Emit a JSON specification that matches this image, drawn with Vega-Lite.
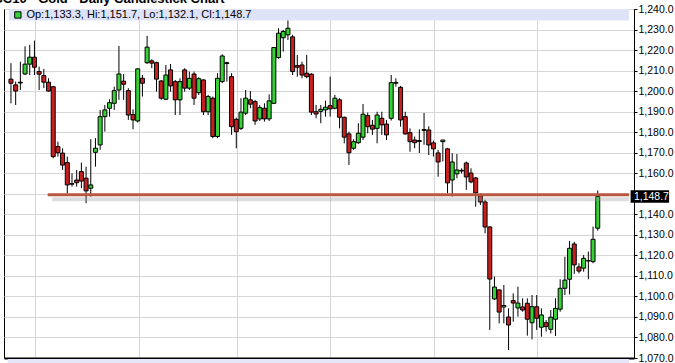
{
  "$schema": "https://vega.github.io/schema/vega-lite/v6.json",
  "width": 630,
  "height": 349,
  "autosize": "none",
  "padding": {"left": 4, "top": 9, "right": 41, "bottom": 5},
  "background": "#ffffff",
  "config": {
    "view": {"stroke": "#000000", "strokeWidth": 1},
    "font": "Liberation Sans",
    "axis": {"labelOverlap": false}
  },
  "datasets": {
    "candles": [
      {"i":1,"o":1206.0,"h":1213.8,"l":1194.2,"c":1204.0},
      {"i":2,"o":1203.2,"h":1204.8,"l":1193.4,"c":1200.2},
      {"i":3,"o":1204.1,"h":1214.5,"l":1200.7,"c":1204.5},
      {"i":4,"o":1208.5,"h":1222.0,"l":1208.0,"c":1213.3},
      {"i":5,"o":1213.3,"h":1222.7,"l":1208.0,"c":1216.7},
      {"i":6,"o":1216.7,"h":1224.8,"l":1208.0,"c":1211.8},
      {"i":7,"o":1209.7,"h":1212.1,"l":1200.7,"c":1208.4},
      {"i":8,"o":1207.7,"h":1211.0,"l":1201.6,"c":1204.5},
      {"i":9,"o":1204.5,"h":1206.4,"l":1199.9,"c":1200.2},
      {"i":10,"o":1202.3,"h":1202.7,"l":1167.4,"c":1168.2},
      {"i":11,"o":1173.1,"h":1175.5,"l":1168.2,"c":1170.1},
      {"i":12,"o":1169.9,"h":1172.3,"l":1161.7,"c":1164.1},
      {"i":13,"o":1165.3,"h":1168.2,"l":1150.3,"c":1154.4},
      {"i":14,"o":1155.0,"h":1160.1,"l":1153.6,"c":1154.8},
      {"i":15,"o":1156.8,"h":1161.7,"l":1153.6,"c":1155.5},
      {"i":16,"o":1160.9,"h":1165.3,"l":1152.8,"c":1156.3},
      {"i":17,"o":1157.7,"h":1163.3,"l":1145.5,"c":1151.5},
      {"i":18,"o":1152.8,"h":1176.7,"l":1148.7,"c":1154.4},
      {"i":19,"o":1170.3,"h":1177.2,"l":1163.3,"c":1172.3},
      {"i":20,"o":1173.9,"h":1191.0,"l":1171.5,"c":1187.7},
      {"i":21,"o":1187.7,"h":1193.4,"l":1180.4,"c":1191.0},
      {"i":22,"o":1191.8,"h":1196.2,"l":1187.7,"c":1194.5},
      {"i":23,"o":1194.2,"h":1202.3,"l":1191.0,"c":1200.4},
      {"i":24,"o":1200.7,"h":1222.2,"l":1195.9,"c":1208.5},
      {"i":25,"o":1205.0,"h":1208.5,"l":1195.9,"c":1203.5},
      {"i":26,"o":1200.4,"h":1201.6,"l":1186.1,"c":1188.5},
      {"i":27,"o":1188.7,"h":1191.3,"l":1181.6,"c":1186.1},
      {"i":28,"o":1185.6,"h":1211.3,"l":1184.8,"c":1211.0},
      {"i":29,"o":1206.4,"h":1208.0,"l":1197.5,"c":1204.0},
      {"i":30,"o":1214.0,"h":1227.1,"l":1213.4,"c":1221.6},
      {"i":31,"o":1214.9,"h":1215.7,"l":1211.3,"c":1213.8},
      {"i":32,"o":1214.0,"h":1214.5,"l":1199.9,"c":1206.0},
      {"i":33,"o":1205.1,"h":1205.6,"l":1195.9,"c":1196.7},
      {"i":34,"o":1196.2,"h":1212.9,"l":1195.9,"c":1208.0},
      {"i":35,"o":1210.5,"h":1213.4,"l":1199.9,"c":1202.7},
      {"i":36,"o":1204.8,"h":1205.6,"l":1188.5,"c":1195.9},
      {"i":37,"o":1195.9,"h":1206.4,"l":1188.5,"c":1204.8},
      {"i":38,"o":1210.5,"h":1211.3,"l":1199.9,"c":1201.6},
      {"i":39,"o":1201.6,"h":1209.7,"l":1200.7,"c":1206.4},
      {"i":40,"o":1208.5,"h":1209.7,"l":1193.4,"c":1196.7},
      {"i":41,"o":1199.4,"h":1206.9,"l":1198.3,"c":1206.2},
      {"i":42,"o":1205.6,"h":1205.9,"l":1188.5,"c":1190.1},
      {"i":43,"o":1190.1,"h":1198.3,"l":1188.5,"c":1197.5},
      {"i":44,"o":1196.7,"h":1197.5,"l":1177.2,"c":1178.0},
      {"i":45,"o":1178.0,"h":1208.9,"l":1177.2,"c":1206.4},
      {"i":46,"o":1204.8,"h":1218.1,"l":1204.0,"c":1217.3},
      {"i":47,"o":1213.6,"h":1214.5,"l":1204.8,"c":1214.0},
      {"i":48,"o":1207.2,"h":1208.9,"l":1178.8,"c":1182.8},
      {"i":49,"o":1186.4,"h":1187.2,"l":1172.3,"c":1180.4},
      {"i":50,"o":1182.0,"h":1196.7,"l":1181.2,"c":1189.9},
      {"i":51,"o":1189.4,"h":1200.7,"l":1188.5,"c":1196.7},
      {"i":52,"o":1195.9,"h":1200.2,"l":1191.8,"c":1193.8},
      {"i":53,"o":1195.0,"h":1195.9,"l":1183.7,"c":1185.6},
      {"i":54,"o":1186.6,"h":1193.4,"l":1185.6,"c":1192.1},
      {"i":55,"o":1191.8,"h":1194.2,"l":1185.3,"c":1186.6},
      {"i":56,"o":1186.6,"h":1198.6,"l":1185.6,"c":1195.4},
      {"i":57,"o":1194.2,"h":1221.4,"l":1193.8,"c":1221.4},
      {"i":58,"o":1216.5,"h":1230.8,"l":1215.9,"c":1228.4},
      {"i":59,"o":1226.2,"h":1230.0,"l":1219.4,"c":1229.2},
      {"i":60,"o":1227.6,"h":1234.9,"l":1225.1,"c":1230.8},
      {"i":61,"o":1226.6,"h":1227.6,"l":1208.0,"c":1209.7},
      {"i":62,"o":1212.6,"h":1217.8,"l":1207.2,"c":1211.8},
      {"i":63,"o":1212.9,"h":1214.5,"l":1206.4,"c":1208.0},
      {"i":64,"o":1208.9,"h":1217.8,"l":1206.4,"c":1207.2},
      {"i":65,"o":1208.4,"h":1208.9,"l":1188.5,"c":1189.9},
      {"i":66,"o":1190.1,"h":1193.4,"l":1186.9,"c":1189.0},
      {"i":67,"o":1190.3,"h":1193.4,"l":1184.5,"c":1191.3},
      {"i":68,"o":1191.0,"h":1195.5,"l":1187.7,"c":1192.3},
      {"i":69,"o":1193.1,"h":1207.2,"l":1187.7,"c":1191.5},
      {"i":70,"o":1191.8,"h":1198.3,"l":1191.3,"c":1196.7},
      {"i":71,"o":1195.9,"h":1196.7,"l":1182.0,"c":1187.4},
      {"i":72,"o":1187.4,"h":1187.7,"l":1174.7,"c":1177.7},
      {"i":73,"o":1179.3,"h":1180.4,"l":1164.1,"c":1170.1},
      {"i":74,"o":1172.3,"h":1176.7,"l":1171.5,"c":1175.5},
      {"i":75,"o":1175.0,"h":1184.5,"l":1174.4,"c":1179.6},
      {"i":76,"o":1177.7,"h":1193.9,"l":1176.3,"c":1188.9},
      {"i":77,"o":1188.2,"h":1189.7,"l":1179.6,"c":1182.8},
      {"i":78,"o":1183.5,"h":1186.1,"l":1178.8,"c":1181.6},
      {"i":79,"o":1182.0,"h":1190.1,"l":1174.7,"c":1188.5},
      {"i":80,"o":1186.9,"h":1190.1,"l":1178.8,"c":1183.7},
      {"i":81,"o":1184.1,"h":1186.1,"l":1176.3,"c":1178.8},
      {"i":82,"o":1186.9,"h":1208.0,"l":1185.8,"c":1204.3},
      {"i":83,"o":1204.0,"h":1206.4,"l":1202.3,"c":1204.4},
      {"i":84,"o":1202.0,"h":1202.7,"l":1182.8,"c":1186.1},
      {"i":85,"o":1187.7,"h":1190.1,"l":1178.8,"c":1179.3},
      {"i":86,"o":1179.9,"h":1182.0,"l":1170.6,"c":1175.5},
      {"i":87,"o":1176.3,"h":1178.0,"l":1172.3,"c":1175.0},
      {"i":88,"o":1176.0,"h":1181.5,"l":1170.0,"c":1175.6},
      {"i":89,"o":1181.0,"h":1189.5,"l":1174.0,"c":1181.4},
      {"i":90,"o":1181.2,"h":1183.0,"l":1169.0,"c":1173.9},
      {"i":91,"o":1174.9,"h":1176.0,"l":1168.2,"c":1172.0},
      {"i":92,"o":1170.0,"h":1171.5,"l":1158.4,"c":1165.6},
      {"i":93,"o":1175.5,"h":1176.3,"l":1165.8,"c":1176.3},
      {"i":94,"o":1172.0,"h":1172.5,"l":1150.3,"c":1155.4},
      {"i":95,"o":1156.8,"h":1169.9,"l":1148.7,"c":1165.6},
      {"i":96,"o":1159.8,"h":1169.5,"l":1157.7,"c":1161.7},
      {"i":97,"o":1161.5,"h":1162.5,"l":1160.0,"c":1161.2},
      {"i":98,"o":1165.1,"h":1165.8,"l":1152.0,"c":1158.3},
      {"i":99,"o":1160.2,"h":1162.5,"l":1155.2,"c":1155.9},
      {"i":100,"o":1157.8,"h":1158.3,"l":1143.8,"c":1150.5},
      {"i":101,"o":1149.5,"h":1150.3,"l":1144.6,"c":1146.1},
      {"i":102,"o":1146.1,"h":1147.1,"l":1130.8,"c":1133.9},
      {"i":103,"o":1133.9,"h":1134.3,"l":1083.7,"c":1108.5},
      {"i":104,"o":1098.8,"h":1109.7,"l":1098.3,"c":1104.6},
      {"i":105,"o":1103.2,"h":1103.5,"l":1086.9,"c":1092.4},
      {"i":106,"o":1094.9,"h":1105.6,"l":1086.9,"c":1095.6},
      {"i":107,"o":1090.0,"h":1094.2,"l":1073.9,"c":1086.1},
      {"i":108,"o":1098.0,"h":1101.5,"l":1087.7,"c":1096.8},
      {"i":109,"o":1094.4,"h":1104.8,"l":1090.2,"c":1096.8},
      {"i":110,"o":1094.9,"h":1099.1,"l":1092.6,"c":1093.4},
      {"i":111,"o":1096.7,"h":1099.1,"l":1080.9,"c":1088.9},
      {"i":112,"o":1087.2,"h":1100.7,"l":1079.1,"c":1095.0},
      {"i":113,"o":1095.0,"h":1100.7,"l":1083.7,"c":1089.4},
      {"i":114,"o":1085.0,"h":1094.2,"l":1080.4,"c":1091.0},
      {"i":115,"o":1087.2,"h":1088.5,"l":1082.9,"c":1085.3},
      {"i":116,"o":1084.0,"h":1093.4,"l":1082.0,"c":1089.9},
      {"i":117,"o":1088.9,"h":1099.1,"l":1080.7,"c":1094.2},
      {"i":118,"o":1093.8,"h":1108.4,"l":1092.6,"c":1104.0},
      {"i":119,"o":1104.0,"h":1119.4,"l":1100.7,"c":1108.0},
      {"i":120,"o":1108.4,"h":1127.1,"l":1101.0,"c":1123.5},
      {"i":121,"o":1125.6,"h":1126.7,"l":1111.0,"c":1115.4},
      {"i":122,"o":1114.4,"h":1116.2,"l":1111.3,"c":1112.4},
      {"i":123,"o":1113.8,"h":1120.2,"l":1112.1,"c":1118.6},
      {"i":124,"o":1117.3,"h":1121.9,"l":1108.4,"c":1117.5},
      {"i":125,"o":1117.0,"h":1134.1,"l":1116.2,"c":1127.9},
      {"i":126,"o":1133.3,"h":1151.7,"l":1132.1,"c":1148.7}
    ]
  },
  "layer": [
    {
      "data": {"name": "candles"},
      "mark": {"type": "rule", "color": "#000000", "strokeWidth": 1},
      "encoding": {
        "x": {
          "field": "i", "type": "quantitative",
          "scale": {"domain": [0.581, 132.66], "nice": false, "zero": false},
          "axis": {
            "title": null, "orient": "bottom", "values": [6.16, 28.19, 49.16, 68.93, 91.09, 113.1],
            "tickCount": 40,
            "grid": true, "gridColor": "#d6d6d6", "gridWidth": 1,
            "labels": false, "ticks": false,
            "domain": true, "domainColor": "#000000", "domainWidth": 2
          }
        },
        "y": {
          "field": "l", "type": "quantitative",
          "scale": {"domain": [1070, 1240.2], "nice": false, "zero": false},
          "axis": {
            "title": null, "orient": "right",
            "values": [1070,1080,1090,1100,1110,1120,1130,1140,1150,1160,1170,1180,1190,1200,1210,1220,1230,1240],
            "tickCount": 40,
            "format": ",.1f",
            "labelExpr": "datum.value == 1150 ? '' : datum.label",
            "labelOverlap": false,
            "grid": true, "gridColor": "#d6d6d6", "gridWidth": 1,
            "domainColor": "#000000", "tickColor": "#000000", "tickSize": 3,
            "labelFont": "Liberation Sans", "labelFontSize": 10.5, "labelColor": "#000000",
            "labelPadding": 1
          }
        },
        "y2": {"field": "h"}
      }
    },
    {
      "data": {"name": "candles"},
      "mark": {"type": "bar", "size": 4, "stroke": "#000000", "strokeWidth": 1},
      "encoding": {
        "x": {"field": "i", "type": "quantitative"},
        "y": {"field": "o", "type": "quantitative"},
        "y2": {"field": "c"},
        "color": {
          "condition": {"test": "datum.o < datum.c", "value": "#36d136"},
          "value": "#c82020"
        }
      }
    },
    {
      "data": {"values": [{}]},
      "mark": {"type": "rect", "color": "#dfe3f8"},
      "encoding": {
        "x": {"datum": 0.581, "type": "quantitative"},
        "x2": {"datum": 132.66},
        "y": {"datum": 1240.2, "type": "quantitative"},
        "y2": {"datum": 1234.6}
      }
    },
    {
      "data": {"values": [{}]},
      "mark": {"type": "rect", "color": "#e4e6f8"},
      "encoding": {
        "x": {"datum": 0.3, "type": "quantitative"},
        "x2": {"datum": 132.66},
        "y": {"datum": 1069.5, "type": "quantitative"},
        "y2": {"datum": 1066}
      }
    },
    {
      "data": {"values": [{}]},
      "mark": {"type": "point", "shape": "square", "size": 40, "filled": true, "color": "#36d136", "stroke": "#000000", "strokeWidth": 1, "opacity": 1},
      "encoding": {
        "x": {"datum": 2.47, "type": "quantitative"},
        "y": {"datum": 1237.3, "type": "quantitative"}
      }
    },
    {
      "data": {"values": [{"t": "Op:1,133.3, Hi:1,151.7, Lo:1,132.1, Cl:1,148.7"}]},
      "mark": {"type": "text", "align": "left", "baseline": "middle", "font": "Liberation Sans", "fontSize": 11, "color": "#000000"},
      "encoding": {
        "x": {"datum": 4.29, "type": "quantitative"},
        "y": {"datum": 1237.3, "type": "quantitative"},
        "text": {"field": "t"}
      }
    },
    {
      "data": {"values": [{"t": "GC10 - Gold - Daily Candlestick Chart"}]},
      "mark": {"type": "text", "align": "right", "baseline": "alphabetic", "font": "Liberation Sans", "fontSize": 13, "fontWeight": "bold", "color": "#000000"},
      "encoding": {
        "x": {"datum": 46.5, "type": "quantitative"},
        "y": {"datum": 1243.3, "type": "quantitative"},
        "text": {"field": "t"}
      }
    },
    {
      "data": {"values": [{}]},
      "mark": {"type": "rule", "color": "#9a9a9a", "strokeWidth": 4, "opacity": 0.35},
      "encoding": {
        "x": {"datum": 9.8, "type": "quantitative"},
        "x2": {"datum": 132.66},
        "y": {"datum": 1147.4, "type": "quantitative"}
      }
    },
    {
      "data": {"values": [{}]},
      "mark": {"type": "rule", "color": "#b8573f", "strokeWidth": 3},
      "encoding": {
        "x": {"datum": 8.82, "type": "quantitative"},
        "x2": {"datum": 132.66},
        "y": {"datum": 1149.6, "type": "quantitative"}
      }
    },
    {
      "data": {"values": [{}]},
      "mark": {"type": "rect", "color": "#000000"},
      "encoding": {
        "x": {"datum": 133.0, "type": "quantitative"},
        "x2": {"datum": 141.2},
        "y": {"datum": 1151.8, "type": "quantitative"},
        "y2": {"datum": 1145.7}
      }
    },
    {
      "data": {"values": [{"t": "1,148.7"}]},
      "mark": {"type": "text", "align": "left", "baseline": "middle", "font": "Liberation Sans", "fontSize": 10.5, "color": "#ffffff"},
      "encoding": {
        "x": {"datum": 133.7, "type": "quantitative"},
        "y": {"datum": 1148.7, "type": "quantitative"},
        "text": {"field": "t"}
      }
    }
  ]
}
